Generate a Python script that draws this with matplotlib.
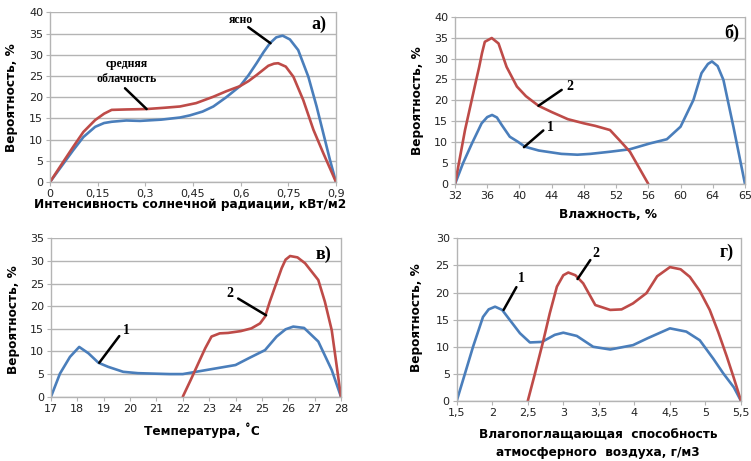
import numpy as np
import matplotlib
matplotlib.use("Agg")
import matplotlib.pyplot as plt

BLUE = "#4a7ebb"
RED = "#be4b48"
GRID = "#b4b4b4"

# а) солнечная радиация
rad_x_clear = [0, 0.035, 0.073, 0.105, 0.142, 0.17, 0.194, 0.24, 0.283, 0.35, 0.409, 0.44, 0.48,
               0.514, 0.555, 0.598, 0.625, 0.650, 0.672, 0.692, 0.712, 0.732, 0.755, 0.781,
               0.813, 0.839, 0.860, 0.881, 0.9]
rad_y_clear = [0, 3.6, 7.5, 10.6, 13.0, 13.9, 14.2, 14.5, 14.4, 14.7, 15.2, 15.7, 16.6,
               17.8, 20.0, 22.6, 25.2, 28.0, 30.6, 32.7, 34.1, 34.5, 33.6, 31.1,
               24.8, 17.8, 11.5, 5.2, 0]
rad_x_cloud = [0, 0.035, 0.073, 0.105, 0.142, 0.17, 0.194, 0.24, 0.304, 0.36, 0.409, 0.46, 0.514,
               0.555, 0.598, 0.625, 0.650, 0.687, 0.705, 0.718, 0.742, 0.766, 0.797, 0.829, 0.86, 0.9]
rad_y_cloud = [0, 4.0, 8.3, 11.8, 14.6, 16.1, 17.0, 17.1, 17.2, 17.5, 17.8, 18.6, 20.1,
               21.4, 22.6, 23.8, 25.2, 27.4, 27.9, 28.0, 27.2, 24.8, 19.3, 12.3, 6.8, 0]
rad_ticks = [0, 0.15, 0.3, 0.45, 0.6, 0.75, 0.9]
rad_labels = ["0", "0,15", "0,3", "0,45", "0,6", "0,75", "0,9"]

# б) влажность (категорийная ось)
hum_ticks = [32, 36, 40, 44, 48, 52, 56, 60, 64, 65]
hum_x1 = [32, 33, 34.1, 35.3, 36.0, 36.6, 37.2, 37.8, 38.8, 39.8, 40.7, 42.4, 45.2, 47.2, 48.8,
          51.2, 53.7, 56.2, 58.3, 60, 60.8, 61.6, 62.6, 63.4, 63.9, 64.15, 64.33, 64.64, 65]
hum_y1 = [0, 5.0, 9.7, 14.5, 16.0, 16.5, 15.9, 14.1, 11.3, 10.1, 8.9, 8.0, 7.2, 7.0, 7.2,
          7.7, 8.3, 9.7, 10.7, 13.7, 16.9, 20.1, 26.5, 28.7, 29.3, 28.2, 24.9, 13.7, 0]
hum_x2 = [32, 33.24, 34.68, 35.0, 35.35, 35.7, 36.56, 37.4, 38.4, 39.68, 40.8, 42.36, 44, 46, 48,
          49.4, 51.24, 52.4, 53.72, 56]
hum_y2 = [0, 12.9, 25.3, 28.0, 31.3, 34.0, 34.9, 33.6, 28.0, 23.3, 21.0, 18.7, 17.2, 15.5, 14.5,
          13.9, 12.9, 10.5, 7.7, 0]

# в) температура
temp_x1 = [17, 17.34, 17.72, 18.07, 18.42, 18.8, 19.17, 19.74, 20.3, 20.88, 21.5, 22.0, 22.4,
           23.0, 23.5, 24.0, 24.5, 25.12, 25.56, 25.9, 26.19, 26.6, 27.14, 27.65, 28]
temp_y1 = [0, 5.1, 8.8, 11.0, 9.6, 7.5, 6.6, 5.5, 5.2, 5.1, 5.0, 5.0, 5.4,
           6.0, 6.5, 7.0, 8.5, 10.3, 13.3, 14.9, 15.5, 15.2, 12.2, 5.9, 0]
temp_x2 = [22, 22.3, 22.59, 22.85, 23.09, 23.4, 23.72, 24.2, 24.6, 24.93, 25.12, 25.3, 25.5,
           25.75, 25.9, 26.07, 26.35, 26.64, 27.14, 27.39, 27.65, 28]
temp_y2 = [0, 3.7, 7.4, 10.7, 13.3, 14.0, 14.1, 14.5, 15.1, 16.2, 17.7, 21.0, 24.3,
           28.4, 30.3, 31.1, 30.8, 29.5, 25.8, 21.0, 14.7, 0]
temp_ticks = list(range(17, 29))

# г) влагопоглащающая способность
abs_x1 = [1.5, 1.62, 1.73, 1.87, 1.95, 2.04, 2.14, 2.25, 2.39, 2.53, 2.7, 2.88, 3.0, 3.19, 3.42,
          3.66, 3.98, 4.19, 4.5, 4.73, 4.92, 5.11, 5.25, 5.4, 5.5]
abs_y1 = [0, 5.2, 10.0, 15.5, 16.9, 17.4, 16.8, 14.9, 12.5, 10.8, 10.9, 12.2, 12.6, 12.0, 10.0,
          9.5, 10.3, 11.6, 13.4, 12.8, 11.2, 7.8, 5.1, 2.5, 0]
abs_x2 = [2.5, 2.6, 2.72, 2.81, 2.91, 3.0, 3.07, 3.17, 3.28, 3.45, 3.66, 3.82, 3.98, 4.17, 4.32,
          4.5, 4.65, 4.78, 4.92, 5.06, 5.18, 5.3, 5.4, 5.5]
abs_y2 = [0, 5.0, 11.2, 16.2, 21.1, 23.2, 23.7, 23.2, 21.7, 17.7, 16.8, 16.9, 18.0, 19.9, 23.0,
          24.7, 24.3, 22.9, 20.3, 16.8, 12.7, 8.2, 4.2, 0]
abs_ticks = [1.5, 2, 2.5, 3, 3.5, 4, 4.5, 5, 5.5]
abs_labels = ["1,5", "2", "2,5", "3", "3,5", "4", "4,5", "5", "5,5"]


def hum_pos(h):
    # humidity value -> position on the category axis
    return np.interp(h, hum_ticks, np.arange(len(hum_ticks)))


def style(ax, ymax):
    ax.set_ylim(0, ymax)
    ax.set_yticks(np.arange(0, ymax + 1, 5))
    ax.yaxis.grid(True, color=GRID, lw=1)
    ax.set_axisbelow(True)
    ax.spines["top"].set_visible(False)
    for s in ["left", "right", "bottom"]:
        ax.spines[s].set_color(GRID)
        ax.spines[s].set_linewidth(1)
    ax.tick_params(direction="out", length=3, color=GRID, labelsize=8, pad=2,
                   labelcolor="#222222")


def curve(ax, x, y, c):
    ax.plot(x, y, color=c, lw=1.9, solid_joinstyle="round", solid_capstyle="round")


def pointer(ax, xy, xytext):
    ax.annotate("", xy=xy, xytext=xytext,
                arrowprops=dict(arrowstyle="-", color="black", lw=1.8, shrinkA=0, shrinkB=0))


serif = dict(family="Liberation Serif", weight="bold", color="black")
lab = dict(weight="bold", fontsize=8.7)

fig = plt.figure(figsize=(7.51, 4.61), dpi=100)
ax_a = fig.add_axes([0.0666, 0.6052, 0.3808, 0.3681])
ax_b = fig.add_axes([0.6059, 0.6009, 0.3861, 0.3629])
ax_c = fig.add_axes([0.0679, 0.1395, 0.3861, 0.3434])
ax_d = fig.add_axes([0.6081, 0.1302, 0.3786, 0.3527])

# а)
curve(ax_a, rad_x_clear, rad_y_clear, BLUE)
curve(ax_a, rad_x_cloud, rad_y_cloud, RED)
ax_a.set_xlim(0, 0.9)
style(ax_a, 40)
ax_a.set_xticks(rad_ticks, rad_labels)
ax_a.set_xlabel("Интенсивность солнечной радиации, кВт/м2", va="center", **lab)
ax_a.xaxis.set_label_coords(0.49, -0.13)
ax_a.set_ylabel("Вероятность, %", va="center", **lab)
ax_a.yaxis.set_label_coords(-0.133, 0.5)
pointer(ax_a, (0.694, 32.7), (0.624, 36.5))
ax_a.text(0.60, 38.3, "ясно", ha="center", va="center", fontsize=8.5, **serif)
pointer(ax_a, (0.304, 17.2), (0.236, 22.1))
ax_a.text(0.24, 26.0, "средняя\nоблачность", ha="center", va="center", fontsize=8.5,
          linespacing=1.3, **serif)
ax_a.text(0.94, 0.93, "а)", transform=ax_a.transAxes, ha="center", va="center",
          fontsize=13, **serif)

# б)
curve(ax_b, hum_pos(hum_x1), hum_y1, BLUE)
curve(ax_b, hum_pos(hum_x2), hum_y2, RED)
ax_b.set_xlim(0, len(hum_ticks) - 1)
style(ax_b, 40)
ax_b.set_xticks(np.arange(len(hum_ticks)), [str(t) for t in hum_ticks])
ax_b.set_xlabel("Влажность, %", va="center", **lab)
ax_b.xaxis.set_label_coords(0.526, -0.185)
ax_b.set_ylabel("Вероятность, %", va="center", **lab)
ax_b.yaxis.set_label_coords(-0.128, 0.5)
pointer(ax_b, (2.59, 18.7), (3.31, 22.5))
ax_b.text(3.55, 23.2, "2", ha="center", va="center", fontsize=10, **serif)
pointer(ax_b, (2.14, 8.8), (2.74, 12.8))
ax_b.text(2.95, 13.6, "1", ha="center", va="center", fontsize=10, **serif)
ax_b.text(0.955, 0.905, "б)", transform=ax_b.transAxes, ha="center", va="center",
          fontsize=13, **serif)

# в)
curve(ax_c, temp_x1, temp_y1, BLUE)
curve(ax_c, temp_x2, temp_y2, RED)
ax_c.set_xlim(17, 28)
style(ax_c, 35)
ax_c.set_xticks(temp_ticks, [str(t) for t in temp_ticks])
ax_c.set_xlabel("Температура, ˚С", va="center", **lab)
ax_c.xaxis.set_label_coords(0.522, -0.21)
ax_c.set_ylabel("Вероятность, %", va="center", **lab)
ax_c.yaxis.set_label_coords(-0.131, 0.484)
pointer(ax_c, (18.83, 7.5), (19.59, 13.4))
ax_c.text(19.85, 14.6, "1", ha="center", va="center", fontsize=10, **serif)
pointer(ax_c, (25.16, 18.0), (24.1, 21.7))
ax_c.text(23.8, 22.9, "2", ha="center", va="center", fontsize=10, **serif)
ax_c.text(0.94, 0.90, "в)", transform=ax_c.transAxes, ha="center", va="center",
          fontsize=13, **serif)

# г)
curve(ax_d, abs_x1, abs_y1, BLUE)
curve(ax_d, abs_x2, abs_y2, RED)
ax_d.set_xlim(1.5, 5.5)
style(ax_d, 30)
ax_d.set_xticks(abs_ticks, abs_labels)
ax_d.set_xlabel("Влагопоглащающая  способность\nатмосферного  воздуха, г/м3", va="center",
                linespacing=1.45, **lab)
ax_d.xaxis.set_label_coords(0.498, -0.264)
ax_d.set_ylabel("Вероятность, %", va="center", **lab)
ax_d.yaxis.set_label_coords(-0.141, 0.513)
pointer(ax_d, (2.16, 16.8), (2.34, 21.0))
ax_d.text(2.41, 22.6, "1", ha="center", va="center", fontsize=10, **serif)
pointer(ax_d, (3.20, 22.5), (3.38, 26.0))
ax_d.text(3.46, 27.2, "2", ha="center", va="center", fontsize=10, **serif)
ax_d.text(0.95, 0.915, "г)", transform=ax_d.transAxes, ha="center", va="center",
          fontsize=13, **serif)

fig.savefig("out.png", dpi=100)
